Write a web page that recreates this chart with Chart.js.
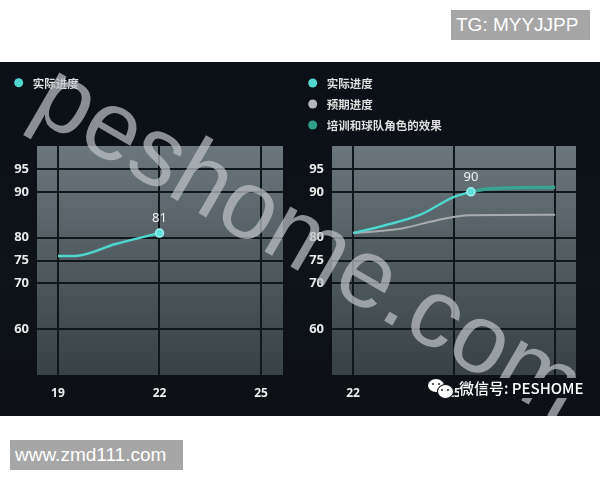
<!DOCTYPE html>
<html><head><meta charset="utf-8">
<script src="https://cdn.jsdelivr.net/npm/chart.js@4.4.1/dist/chart.umd.min.js"></script>
<style>
html,body{margin:0;padding:0;background:#fff;width:600px;height:480px;overflow:hidden;position:relative}
#dark{position:absolute;left:0;top:62px;width:600px;height:354px;background:linear-gradient(180deg,#0b0f16 0%,#0e1318 60%,#0c1014 100%);overflow:hidden}
canvas{position:absolute;top:0}
#wm{position:absolute;left:311px;top:177px;transform:translate(-50%,-50%) rotate(30.1deg);white-space:nowrap;font-family:"Liberation Sans","DejaVu Sans",sans-serif;font-size:98px;line-height:1;color:rgba(188,193,197,0.72);pointer-events:none}
#wechat{position:absolute;left:427px;top:316px;height:20px;width:160px}
.bub{position:absolute;background:#fff;border-radius:50%}
.eye{position:absolute;width:2px;height:2px;background:#222;border-radius:50%}
#wxt{position:absolute;left:32px;top:0;height:20px;line-height:20px;font-family:"Noto Sans CJK SC",sans-serif;font-size:15px;font-weight:500;color:#fff;background:#0c1015;padding-right:2px;white-space:nowrap}
#tg{position:absolute;left:451px;top:10px;width:139px;height:30px;line-height:30px;background:#a6a6a6;color:#fff;font-family:"Liberation Sans",sans-serif;font-size:19px;padding-left:5px;box-sizing:border-box;white-space:nowrap}
#zmd{position:absolute;left:10px;top:440px;width:173px;height:30px;line-height:30px;background:#a6a6a6;color:#fff;font-family:"Liberation Sans",sans-serif;font-size:19px;padding-left:5px;box-sizing:border-box;white-space:nowrap}
</style></head><body>
<div id="dark">
  <canvas id="c1" width="300" height="354" style="left:0"></canvas>
  <canvas id="c2" width="300" height="354" style="left:300px"></canvas>
  <div id="wm">peshome.com</div>
  <div id="wechat">
    <div class="bub" style="left:1px;top:1px;width:16px;height:13px"></div>
    <div class="eye" style="left:5px;top:5px"></div><div class="eye" style="left:11px;top:5px"></div>
    <div class="bub" style="left:10px;top:6px;width:15px;height:13px;border:1px solid #0c1015"></div>
    <div class="eye" style="left:14px;top:11px"></div><div class="eye" style="left:20px;top:11px"></div>
    <div id="wxt">微信号: PESHOME</div>
  </div>
</div>
<div id="tg">TG: MYYJJPP</div>
<div id="zmd">www.zmd111.com</div>
<script>
// ---- data ----
const yTicks = [60, 70, 75, 80, 90, 95];
const leftXTicks = [19, 22, 25];
const rightXTicks = [22, 25, 28];

const seriesNames = ['实际进度', '预期进度', '培训和球队角色的效果'];

const leftActualX = [19, 19.5, 20.7, 22];
const leftActualY = [76, 76, 78.6, 81];

const rightActualX = [22, 22.9, 24, 25, 25.5];
const rightActualY = [81, 82.6, 85, 88.9, 90];

const expectedX = [22, 22.9, 23.45, 24.5, 25.45, 28];
const expectedY = [81, 81.5, 82, 83.8, 84.9, 85];

const effectX = [25.5, 26, 28];
const effectY = [90, 90.6, 91];

// ---- styling ----
const CYAN = '#4fd6cf';
const GREY = '#a9acae';
const TEAL = 'rgba(56,170,150,0.9)';
const GRID = '#10171b';
const pts = (xs, ys) => xs.map((x, i) => ({x: x, y: ys[i]}));

const plotBg = {
  id: 'plotBg',
  beforeDraw(chart) {
    const a = chart.chartArea, ctx = chart.ctx;
    const g = ctx.createLinearGradient(0, a.top, 0, a.bottom);
    g.addColorStop(0, '#6b777c');
    g.addColorStop(0.45, '#535e63');
    g.addColorStop(1, '#384145');
    ctx.save();
    ctx.fillStyle = g;
    ctx.fillRect(a.left, a.top, a.right - a.left, a.bottom - a.top);
    ctx.restore();
  }
};

const dotLegend = {
  id: 'dotLegend',
  afterDraw(chart, args, opts) {
    const ctx = chart.ctx;
    ctx.save();
    chart.data.datasets.forEach((ds, i) => {
      const y = opts.y + i * opts.gap;
      ctx.beginPath();
      ctx.arc(opts.x, y, 4.5, 0, Math.PI * 2);
      ctx.fillStyle = ds.legendColor || ds.borderColor;
      ctx.fill();
      ctx.fillStyle = '#dedede';
      ctx.font = 'bold 11.5px "Noto Sans CJK SC", sans-serif';
      ctx.textBaseline = 'middle';
      ctx.textAlign = 'left';
      ctx.fillText(ds.label, opts.x + 14, y + 0.5);
    });
    ctx.restore();
  }
};

const endLabel = {
  id: 'endLabel',
  afterDatasetsDraw(chart) {
    const ctx = chart.ctx;
    ctx.save();
    chart.data.datasets.forEach((ds, i) => {
      if (!ds.endLabel) return;
      const meta = chart.getDatasetMeta(i);
      const el = meta.data[meta.data.length - 1];
      const v = ds.data[ds.data.length - 1].y;
      ctx.fillStyle = '#f2f2f2';
      ctx.font = '13px "Noto Sans", sans-serif';
      ctx.textAlign = 'center';
      ctx.textBaseline = 'middle';
      ctx.fillText(String(v), el.x, el.y - 15);
    });
    ctx.restore();
  }
};

function lastRadius(ctx) {
  return ctx.dataIndex === ctx.dataset.data.length - 1 ? 4 : 0;
}

function makeOptions(xTicks, xMin, xMax, yWidth, padRight, legendPos) {
  return {
    responsive: false,
    animation: false,
    layout: {padding: {top: 84, left: 0, right: padRight, bottom: 0}},
    plugins: {
      legend: {display: false},
      tooltip: {enabled: false},
      dotLegend: legendPos
    },
    elements: {line: {cubicInterpolationMode: 'monotone'}},
    scales: {
      x: {
        type: 'linear', min: xMin, max: xMax,
        afterBuildTicks: s => { s.ticks = xTicks.map(v => ({value: v})); },
        afterFit: s => { s.height = 41; },
        grid: {color: GRID, lineWidth: 2, drawTicks: false},
        border: {display: false},
        ticks: {padding: 11, color: '#eeeeee', font: {family: '"Noto Sans", sans-serif', size: 12, weight: 'bold'}}
      },
      y: {
        type: 'linear', min: 50, max: 100,
        afterBuildTicks: s => { s.ticks = yTicks.map(v => ({value: v})); },
        afterFit: s => { s.width = yWidth; },
        grid: {color: GRID, lineWidth: 2, drawTicks: false},
        border: {display: false},
        ticks: {padding: 8, color: '#e8e8e8', font: {family: '"Noto Sans", sans-serif', size: 13, weight: 'bold'}}
      }
    }
  };
}

new Chart(document.getElementById('c1'), {
  type: 'line',
  data: {
    datasets: [{
      label: seriesNames[0],
      data: pts(leftActualX, leftActualY),
      borderColor: CYAN, borderWidth: 2.5,
      pointRadius: lastRadius, pointBackgroundColor: '#5fe0da', pointBorderColor: '#9ff0ec', pointBorderWidth: 1.5,
      endLabel: true
    }]
  },
  options: makeOptions(leftXTicks, 18.38, 25.65, 37, 17, {x: 18.7, y: 20.7, gap: 21}),
  plugins: [plotBg, dotLegend, endLabel]
});

new Chart(document.getElementById('c2'), {
  type: 'line',
  data: {
    datasets: [{
      label: seriesNames[0],
      data: pts(rightActualX, rightActualY),
      borderColor: CYAN, borderWidth: 2.5, order: 0,
      pointRadius: lastRadius, pointBackgroundColor: '#5fe0da', pointBorderColor: '#9ff0ec', pointBorderWidth: 1.5,
      endLabel: true
    }, {
      label: seriesNames[1],
      data: pts(expectedX, expectedY),
      borderColor: GREY, legendColor: '#b8b8bc', borderWidth: 2, pointRadius: 0, order: 2
    }, {
      label: seriesNames[2],
      data: pts(effectX, effectY),
      borderColor: TEAL, legendColor: '#2f9f8a', borderWidth: 3.5, pointRadius: 0, order: 1
    }]
  },
  options: makeOptions(rightXTicks, 21.376, 28.62, 32, 24, {x: 12.7, y: 21, gap: 21}),
  plugins: [plotBg, dotLegend, endLabel]
});
</script>
</body></html>
